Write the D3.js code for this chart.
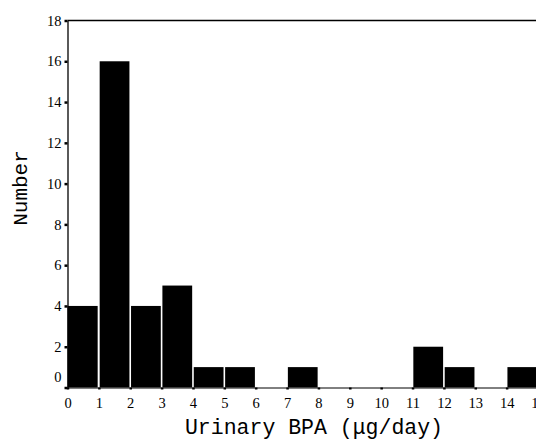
<!DOCTYPE html>
<html><head><meta charset="utf-8">
<script src="https://cdn.jsdelivr.net/npm/d3@7"></script>
<style>body{margin:0;background:#fff}svg{display:block}</style>
</head><body>
<script>
const binStarts = [0,1,2,3,4,5,6,7,8,9,10,11,12,13,14];
const counts    = [4,16,4,5,1,1,0,1,0,0,0,2,1,0,1];
const yTicks = [0,2,4,6,8,10,12,14,16,18];
const xTicks = [0,1,2,3,4,5,6,7,8,9,10,11,12,13,14,15];
const xTitle = "Urinary BPA (\u03bcg/day)";
const yTitle = "Number";

const W = 536, H = 441;
const svg = d3.select("body").append("svg").attr("width", W).attr("height", H);
const x = d3.scaleLinear().domain([0,15]).range([67.5, 538]);
const y = d3.scaleLinear().domain([0,18]).range([387.5, 20.5]);

svg.append("g").selectAll("rect").data(binStarts).join("rect")
  .attr("x", d => x(d) + (d === 0 ? 0 : 0.8))
  .attr("width", d => x(d+1) - x(d) - (d === 0 ? 1.2 : 1.6))
  .attr("y", (d,i) => y(counts[i]))
  .attr("height", (d,i) => y(0) - y(counts[i]))
  .attr("fill", "#000");

const fontTick = "'Liberation Serif', serif";
const yAxis = svg.append("g").attr("transform", `translate(${x(0)},0)`)
  .call(d3.axisLeft(y).tickValues(yTicks).tickSize(3).tickPadding(3).tickSizeOuter(0));
yAxis.select(".domain").attr("stroke", "#000").attr("stroke-width", 1.3);
yAxis.selectAll(".tick line").attr("stroke", "#000").attr("stroke-width", 2.5);
yAxis.selectAll(".tick text").attr("font-family", fontTick).attr("font-size", 14.5).attr("fill", "#000");
yAxis.selectAll(".tick").filter(d => d === 0).select("text").attr("dy", "-0.4em");

const xAxis = svg.append("g").attr("transform", `translate(0,${y(0)})`)
  .call(d3.axisBottom(x).tickValues(xTicks).tickSize(2).tickPadding(8).tickSizeOuter(0));
xAxis.select(".domain").attr("stroke", "#000").attr("stroke-width", 1);
xAxis.selectAll(".tick line").attr("stroke", "#000").attr("stroke-width", 2.5);
xAxis.selectAll(".tick text").attr("font-family", fontTick).attr("font-size", 14.5).attr("fill", "#000");

// top frame line
svg.append("line").attr("x1", x(0)).attr("x2", W).attr("y1", y(18)).attr("y2", y(18))
  .attr("stroke", "#000").attr("stroke-width", 1.3);

svg.append("text").attr("x", 314).attr("y", 434).attr("text-anchor", "middle")
  .attr("font-family", "'Liberation Mono', monospace").attr("font-size", 21.5).attr("fill", "#000")
  .text(xTitle);
svg.append("text").attr("transform", "translate(27,188) rotate(-90)").attr("text-anchor", "middle")
  .attr("font-family", "'Liberation Mono', monospace").attr("font-size", 21).attr("fill", "#000")
  .text(yTitle);
</script>
</body></html>
